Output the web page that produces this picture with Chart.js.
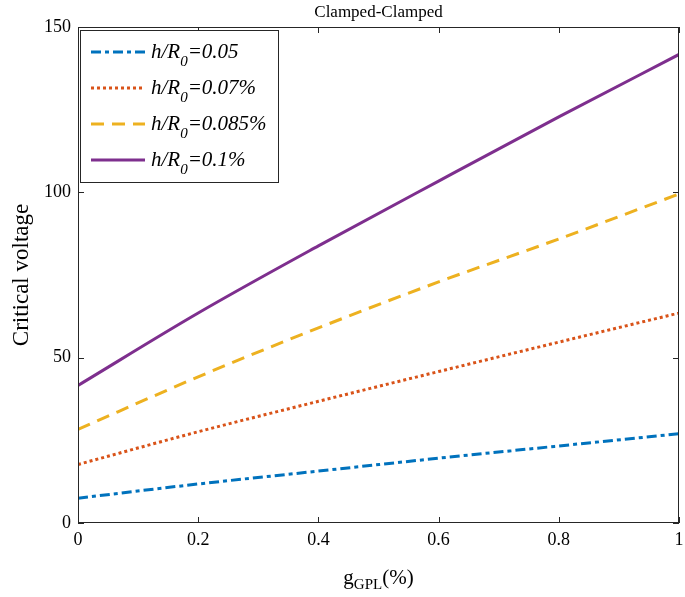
<!DOCTYPE html>
<html>
<head>
<meta charset="utf-8">
<script src="https://cdn.jsdelivr.net/npm/chart.js@4.4.1/dist/chart.umd.min.js"></script>
<style>
    html, body { margin: 0; padding: 0; background: #fff; }
    #wrap { width: 685px; height: 597px; }
</style>
</head>
<body>
<div id="wrap"><canvas id="chart" width="685" height="597"></canvas></div>
<script>
// Data
const gValues = [0, 0.2, 0.4, 0.6, 0.8, 1];
const ratio005 = [7.5, 11.8, 15.7, 19.6, 23.3, 27.0];
const ratio007 = [17.7, 27.6, 36.8, 45.8, 54.7, 63.5];
const ratio0085 = [28.3, 44.2, 59.0, 72.9, 85.9, 99.5];
const ratio01 = [41.6, 63.5, 83.8, 103.4, 122.8, 141.7];
const seriesLabels = ["0.05", "0.07%", "0.085%", "0.1%"];
const xTicks = [0, 0.2, 0.4, 0.6, 0.8, 1];
const yTicks = [0, 50, 100, 150];

const serif = "'Liberation Serif', 'Times New Roman', serif";
const axisColor = "#262626";

const toPoints = (values) => gValues.map((g, i) => ({ x: g, y: values[i] }));

const makeSet = (label, values, color, dash) => ({
    label: label,
    data: toPoints(values),
    borderColor: color,
    backgroundColor: color,
    borderWidth: 3,
    borderDash: dash,
    pointRadius: 0,
    fill: false,
    cubicInterpolationMode: "monotone"
});

// Box, inward ticks, title, x label and legend
const decorPlugin = {
    id: "decor",
    afterDraw(chart) {
        const ctx = chart.ctx;
        const area = chart.chartArea;
        const xs = chart.scales.x;
        const ys = chart.scales.y;
        const tick = 6;

        ctx.save();
        ctx.strokeStyle = axisColor;
        ctx.lineWidth = 1;
        ctx.strokeRect(area.left + 0.5, area.top + 0.5, area.right - area.left - 1, area.bottom - area.top - 1);

        ctx.beginPath();
        xTicks.forEach((v) => {
            const px = Math.round(xs.getPixelForValue(v)) + 0.5;
            ctx.moveTo(px, area.bottom);
            ctx.lineTo(px, area.bottom - tick);
            ctx.moveTo(px, area.top);
            ctx.lineTo(px, area.top + tick);
        });
        yTicks.forEach((v) => {
            const py = Math.round(ys.getPixelForValue(v)) + 0.5;
            ctx.moveTo(area.left, py);
            ctx.lineTo(area.left + tick, py);
            ctx.moveTo(area.right, py);
            ctx.lineTo(area.right - tick, py);
        });
        ctx.stroke();

        // Title
        const cx = (area.left + area.right) / 2;
        ctx.fillStyle = "#000";
        ctx.font = "17px " + serif;
        ctx.textAlign = "center";
        ctx.textBaseline = "middle";
        ctx.fillText("Clamped-Clamped", cx, 13);

        // X axis label with subscript
        ctx.textBaseline = "alphabetic";
        ctx.textAlign = "left";
        const big = "21px " + serif;
        const small = "15px " + serif;
        ctx.font = big;
        const wg = ctx.measureText("g").width;
        const wp = ctx.measureText("(%)").width;
        ctx.font = small;
        const ws = ctx.measureText("GPL").width;
        let x0 = cx - (wg + ws + wp) / 2;
        const base = 584;
        ctx.font = big;
        ctx.fillText("g", x0, base);
        ctx.font = small;
        ctx.fillText("GPL", x0 + wg, base + 5);
        ctx.font = big;
        ctx.fillText("(%)", x0 + wg + ws, base);

        // Legend
        const box = { left: area.left + 2, top: area.top + 3, width: 198, height: 152 };
        ctx.fillStyle = "#fff";
        ctx.fillRect(box.left, box.top, box.width, box.height);
        ctx.strokeStyle = axisColor;
        ctx.strokeRect(box.left + 0.5, box.top + 0.5, box.width, box.height);

        chart.data.datasets.forEach((ds, i) => {
            const rowY = box.top + 22 + i * 36;
            ctx.save();
            ctx.strokeStyle = ds.borderColor;
            ctx.lineWidth = ds.borderWidth;
            ctx.setLineDash(ds.borderDash || []);
            ctx.beginPath();
            ctx.moveTo(box.left + 11, rowY);
            ctx.lineTo(box.left + 65, rowY);
            ctx.stroke();
            ctx.restore();

            let tx = box.left + 71;
            const tBase = rowY + 6;
            ctx.fillStyle = "#000";
            ctx.font = "italic 21px " + serif;
            ctx.fillText("h/R", tx, tBase);
            tx += ctx.measureText("h/R").width;
            ctx.font = "italic 15px " + serif;
            ctx.fillText("0", tx, tBase + 8);
            tx += ctx.measureText("0").width;
            ctx.font = "italic 21px " + serif;
            ctx.fillText("=" + seriesLabels[i], tx, tBase);
        });
        ctx.restore();
    }
};

new Chart(document.getElementById("chart"), {
    type: "line",
    data: {
        datasets: [
            makeSet("h/R0=" + seriesLabels[0], ratio005, "#0072BD", [10, 4, 4, 4]),
            makeSet("h/R0=" + seriesLabels[1], ratio007, "#D95319", [3, 3]),
            makeSet("h/R0=" + seriesLabels[2], ratio0085, "#EDB120", [13, 8]),
            makeSet("h/R0=" + seriesLabels[3], ratio01, "#7E2F8E", [])
        ]
    },
    options: {
        responsive: false,
        devicePixelRatio: 1,
        animation: false,
        layout: {
            padding: { top: 27, right: 6, left: 0, bottom: 0 }
        },
        scales: {
            x: {
                type: "linear",
                min: 0,
                max: 1,
                afterBuildTicks: (scale) => {
                    scale.ticks = xTicks.map((v) => ({ value: v }));
                },
                afterFit: (scale) => {
                    scale.height = 74;
                    scale.paddingRight = 0;
                    scale.paddingLeft = 0;
                },
                grid: { display: false, drawTicks: false },
                border: { display: false },
                ticks: {
                    color: "#000",
                    padding: 6,
                    font: { family: serif, size: 18 },
                    callback: (v) => String(v)
                }
            },
            y: {
                min: 0,
                max: 150,
                afterBuildTicks: (scale) => {
                    scale.ticks = yTicks.map((v) => ({ value: v }));
                },
                afterFit: (scale) => { scale.width = 78; },
                grid: { display: false, drawTicks: false },
                border: { display: false },
                title: {
                    display: true,
                    text: "Critical voltage",
                    color: "#000",
                    font: { family: serif, size: 23 },
                    padding: { top: 8, bottom: 0 }
                },
                ticks: {
                    color: "#000",
                    padding: 7,
                    font: { family: serif, size: 18 },
                    callback: (v) => String(v)
                }
            }
        },
        plugins: {
            legend: { display: false },
            tooltip: { enabled: false }
        }
    },
    plugins: [decorPlugin]
});
</script>
</body>
</html>
